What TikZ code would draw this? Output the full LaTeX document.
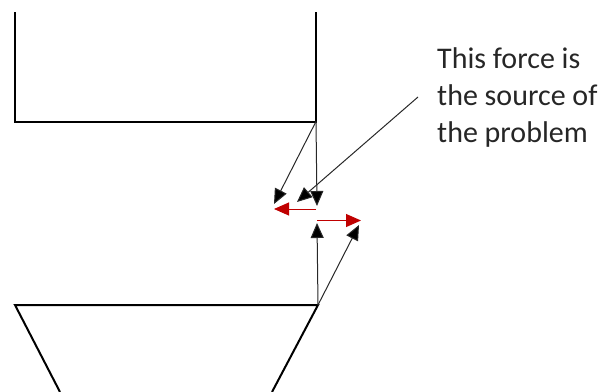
\documentclass[tikz,border=0pt]{standalone}
\usepackage{fontspec}
\setmainfont{Carlito}
\usetikzlibrary{arrows.meta}
\definecolor{forcered}{RGB}{192,0,0}
\definecolor{linegray}{RGB}{40,40,40}
\tikzset{
  body/.style={draw=black, line width=2pt},
  force/.style={draw=linegray, line width=1pt, -{Triangle[length=15pt,width=13pt,fill=black]}},
  redforce/.style={draw=forcered, line width=1pt, -{Triangle[length=15pt,width=13pt,fill=forcered]}},
  label/.style={anchor=base west, inner sep=0pt, font=\fontsize{30}{37}\selectfont, text=black!85}
}
\begin{document}
\begin{tikzpicture}[x=1pt,y=-1pt]
\useasboundingbox (0,0) rectangle (607,391);
% upper block (open top)
\coordinate (ut1) at (15,12);
\coordinate (ubl) at (15,121.5);
\coordinate (ubr) at (316,121.5);
\coordinate (ut2) at (316,12);
\draw[body] (ut1) -- (ubl) -- (ubr) -- (ut2);
% lower funnel
\coordinate (ltl) at (15,305);
\coordinate (ltr) at (318,305);
\coordinate (lbl) at (60,392);
\coordinate (lbr) at (272,392);
\draw[body] (lbl) -- (ltl) -- (ltr) -- (lbr);
% force tips
\coordinate (a1) at (274,204);
\coordinate (a2) at (317,206);
\coordinate (a3) at (297,202);
\coordinate (r1s) at (316,209);
\coordinate (r1e) at (274,209);
\coordinate (r2s) at (317,220.5);
\coordinate (r2e) at (361,220.5);
\coordinate (b1) at (317,223);
\coordinate (b2) at (359,225);
\coordinate (cs) at (418,97);
% forces on upper block
\draw[force] (ubr) -- (a1);
\draw[force] (ubr) -- (a2);
\draw[redforce] (r1s) -- (r1e);
% forces on lower block
\draw[force] (ltr) -- (b1);
\draw[force] (ltr) -- (b2);
\draw[redforce] (r2s) -- (r2e);
% callout
\draw[force] (cs) -- (a3);
\node[label] (t1) at (437,68) {This force is};
\node[label] (t2) at (437,105) {the source of};
\node[label] (t3) at (437,142) {the problem};
\end{tikzpicture}
\end{document}
